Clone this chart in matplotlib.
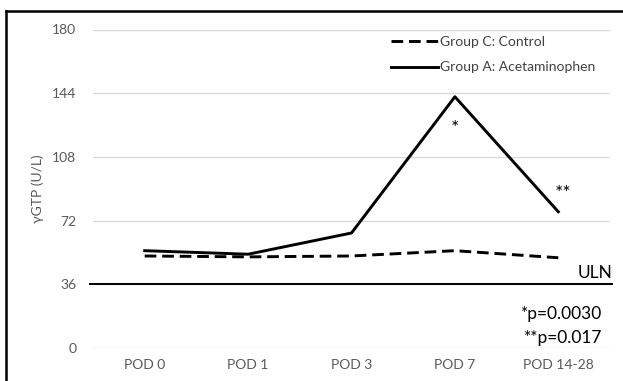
import matplotlib
matplotlib.use("Agg")
import matplotlib.pyplot as plt
from matplotlib.lines import Line2D

plt.rcParams['font.family'] = ['Lato', 'DejaVu Sans']

categories = ["POD 0", "POD 1", "POD 3", "POD 7", "POD 14-28"]
control = [52, 51.5, 52, 55, 51]
acetaminophen = [55, 53, 65, 142, 77]
yticks = [0, 36, 72, 108, 144, 180]
uln = 36

W, H = 623, 381
fig = plt.figure(figsize=(W / 100, H / 100), dpi=100)
ax = fig.add_axes([93 / W, 1 - 348 / H, (610 - 93) / W, (348 - 29.5) / H])

x = list(range(len(categories)))
ax.plot(x, control, color='black', lw=2.1, ls=(0, (4, 2)), label="Group C: Control", zorder=3)
ax.plot(x, acetaminophen, color='black', lw=2.1, label="Group A: Acetaminophen", zorder=3)
ax.axhline(uln, color='black', lw=1.4, xmin=-0.006, xmax=1.004, clip_on=False, zorder=2)

ax.set_xlim(-0.5, len(categories) - 0.5)
ax.set_ylim(0, 180)
ax.set_yticks(yticks)
ax.set_xticks(x)
ax.set_xticklabels(categories)
ax.yaxis.grid(True, color='#d9d9d9', lw=1.0)
ax.set_axisbelow(True)
for s in ax.spines.values():
    s.set_visible(False)
ax.tick_params(length=0, labelsize=10, colors='#595959', pad=12)
ax.tick_params(axis='x', pad=8)
ax.set_ylabel("γGTP (U/L)", fontsize=10, color='#595959', labelpad=6)

ax.text(3, 124, "*", ha='center', va='center', fontsize=14)
ax.text(3.97, 87.5, "**", ha='left', va='center', fontsize=14)
ax.text(1.004, 38, "ULN", transform=ax.get_yaxis_transform(), ha='right', va='bottom', fontsize=12.5)
ax.text(0.985, 0.107, "*p=0.0030", transform=ax.transAxes, ha='right', va='center', fontsize=12.5)
ax.text(0.985, 0.032, "**p=0.017", transform=ax.transAxes, ha='right', va='center', fontsize=12.5)

ax.legend(loc='upper left', bbox_to_anchor=(378 / W, 1 - 23 / H), bbox_transform=fig.transFigure,
          frameon=False, fontsize=10, handlelength=3.4, handletextpad=0.15, labelspacing=1.0,
          labelcolor='#404040')

# outer frame (top and left edges)
fig.add_artist(Line2D([6 / W, 1], [1 - 11 / H, 1 - 11 / H], color='black', lw=1.8, transform=fig.transFigure))
fig.add_artist(Line2D([6 / W, 6 / W], [0, 1 - 11 / H], color='black', lw=1.8, transform=fig.transFigure))

fig.savefig("out.png", dpi=100)
